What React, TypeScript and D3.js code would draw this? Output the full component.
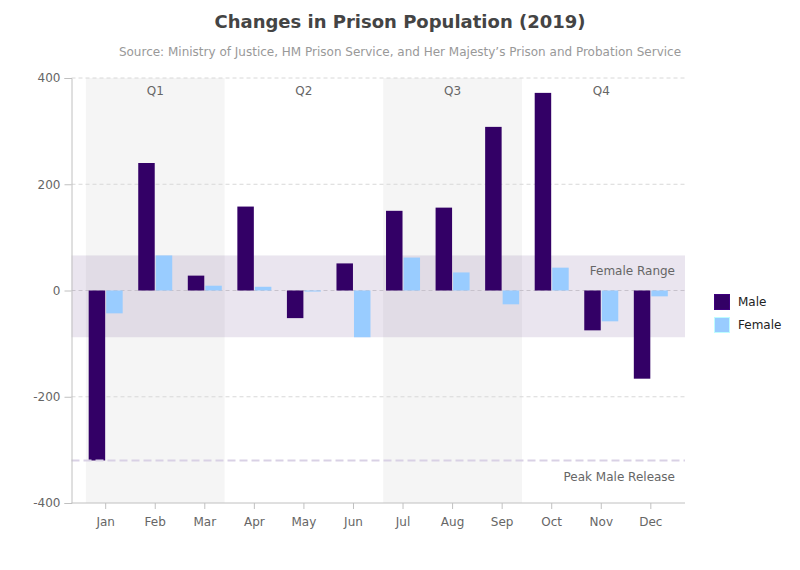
import React, { useEffect, useRef } from 'react';
import * as d3 from 'd3';

const months = ['Jan', 'Feb', 'Mar', 'Apr', 'May', 'Jun', 'Jul', 'Aug', 'Sep', 'Oct', 'Nov', 'Dec'];
const maleValues = [-320, 240, 28, 158, -52, 51, 150, 156, 308, 372, -75, -166];
const femaleValues = [-43, 66, 9, 7, -2, -88, 62, 34, -26, 43, -58, -11];
const yTicks = [-400, -200, 0, 200, 400];
const quarters = [
  { label: 'Q1', from: 'Jan', to: 'Mar', shaded: true },
  { label: 'Q2', from: 'Apr', to: 'Jun', shaded: false },
  { label: 'Q3', from: 'Jul', to: 'Sep', shaded: true },
  { label: 'Q4', from: 'Oct', to: 'Dec', shaded: false },
];
const femaleRange = [-88, 66];
const peakMaleRelease = -320;
const seriesNames = ['Male', 'Female'];
const seriesColors = ['#330066', '#99ccff'];

const FONT = '"DejaVu Sans", Verdana, sans-serif';

const App: React.FC = () => {
  const svgRef = useRef<SVGSVGElement>(null);

  useEffect(() => {
    const svg = d3.select(svgRef.current);
    svg.selectAll('*').remove();

    const left = 71.5;
    const right = 685;
    const top = 78;
    const bottom = 503;

    const x = d3.scaleBand<string>()
      .domain(months)
      .range([left + 9.4, right - 9.4])
      .padding(0);
    const step = x.step();

    const xs = d3.scaleBand<string>()
      .domain(seriesNames)
      .range([-17, 17])
      .paddingInner(2 / 34);

    const y = d3.scaleLinear().domain([-400, 400]).range([bottom, top]);

    const center = (m: string) => (x(m) as number) + step / 2;

    // Quarter shading
    svg.append('g')
      .selectAll('rect')
      .data(quarters.filter(q => q.shaded))
      .enter().append('rect')
      .attr('x', d => center(d.from) - step * 0.4)
      .attr('width', d => center(d.to) - center(d.from) + step * 0.8)
      .attr('y', top)
      .attr('height', bottom - top)
      .attr('fill', '#f5f5f5');

    // Grid lines
    svg.append('g')
      .selectAll('line')
      .data(yTicks.filter(t => t !== -400))
      .enter().append('line')
      .attr('x1', left)
      .attr('x2', right)
      .attr('y1', d => y(d))
      .attr('y2', d => y(d))
      .attr('stroke', '#d8d8d8')
      .attr('stroke-dasharray', '4,3');

    // Female range band
    svg.append('rect')
      .attr('x', left)
      .attr('width', right - left)
      .attr('y', y(femaleRange[1]))
      .attr('height', y(femaleRange[0]) - y(femaleRange[1]))
      .attr('fill', '#330066')
      .attr('opacity', 0.1);

    svg.append('text')
      .attr('x', right - 10)
      .attr('y', y(femaleRange[1]) + 20)
      .attr('text-anchor', 'end')
      .attr('font-family', FONT)
      .attr('font-size', 12)
      .attr('fill', '#666')
      .text('Female Range');

    // Quarter labels
    svg.append('g')
      .selectAll('text')
      .data(quarters)
      .enter().append('text')
      .attr('x', d => (center(d.from) + center(d.to)) / 2)
      .attr('y', top + 17)
      .attr('text-anchor', 'middle')
      .attr('font-family', FONT)
      .attr('font-size', 12)
      .attr('fill', '#666')
      .text(d => d.label);

    // Bars
    const allSeries = [maleValues, femaleValues];
    allSeries.forEach((vals, si) => {
      svg.append('g')
        .selectAll('rect')
        .data(vals)
        .enter().append('rect')
        .attr('x', (_d, i) => center(months[i]) + (xs(seriesNames[si]) as number))
        .attr('width', xs.bandwidth())
        .attr('y', d => y(Math.max(0, d)))
        .attr('height', d => Math.abs(y(d) - y(0)))
        .attr('fill', seriesColors[si]);
    });

    // Peak male release line
    svg.append('line')
      .attr('x1', left)
      .attr('x2', right)
      .attr('y1', y(peakMaleRelease))
      .attr('y2', y(peakMaleRelease))
      .attr('stroke', '#d9d1e5')
      .attr('stroke-width', 2)
      .attr('stroke-dasharray', '8,4');

    svg.append('text')
      .attr('x', right - 10)
      .attr('y', y(peakMaleRelease) + 20)
      .attr('text-anchor', 'end')
      .attr('font-family', FONT)
      .attr('font-size', 12)
      .attr('fill', '#666')
      .text('Peak Male Release');

    // Y axis
    const yAxis = svg.append('g')
      .attr('transform', `translate(${left},0)`)
      .call(d3.axisLeft(y).tickValues(yTicks).tickSize(7).tickPadding(4).tickFormat(d => String(d)));
    yAxis.selectAll('text')
      .attr('font-family', FONT)
      .attr('font-size', 12)
      .attr('fill', '#666');

    // X axis
    const xAxis = svg.append('g')
      .attr('transform', `translate(0,${bottom})`)
      .call(d3.axisBottom(x).tickSize(6).tickPadding(8).tickSizeOuter(0));
    xAxis.selectAll('text')
      .attr('font-family', FONT)
      .attr('font-size', 12)
      .attr('fill', '#666');
    xAxis.select('.domain').attr('d', `M${left},0H${right}`);

    svg.selectAll('.domain, .tick line').attr('stroke', '#c0c0c0');

    // Title
    svg.append('text')
      .attr('x', 400)
      .attr('y', 28)
      .attr('text-anchor', 'middle')
      .attr('font-family', FONT)
      .attr('font-size', 18)
      .attr('font-weight', 'bold')
      .attr('fill', '#444')
      .text('Changes in Prison Population (2019)');

    svg.append('text')
      .attr('x', 400)
      .attr('y', 56)
      .attr('text-anchor', 'middle')
      .attr('font-family', FONT)
      .attr('font-size', 12)
      .attr('fill', '#999')
      .text('Source: Ministry of Justice, HM Prison Service, and Her Majesty\u2019s Prison and Probation Service');

    // Legend
    const legend = svg.append('g').attr('transform', 'translate(714,294)');
    seriesNames.forEach((name, i) => {
      const g = legend.append('g').attr('transform', `translate(0,${i * 23})`);
      g.append('rect')
        .attr('x', 0.5)
        .attr('y', 0.5)
        .attr('width', 15)
        .attr('height', 15)
        .attr('fill', seriesColors[i])
        .attr('stroke', d3.color(seriesColors[i])!.brighter(0.6).formatHex())
        .attr('stroke-width', 1);
      g.append('text')
        .attr('x', 24)
        .attr('y', 8)
        .attr('dy', '0.35em')
        .attr('font-family', FONT)
        .attr('font-size', 12)
        .attr('fill', '#222')
        .text(name);
    });
  }, []);

  return (
    <div style={{ width: 800, height: 570 }}>
      <svg ref={svgRef} width={800} height={570} style={{ display: 'block', margin: -8 }}></svg>
    </div>
  );
};

export default App;
